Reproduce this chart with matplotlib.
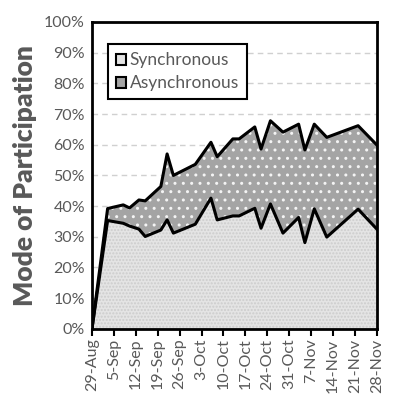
import numpy as np
import matplotlib
matplotlib.use('Agg')
import matplotlib.pyplot as plt
from matplotlib.patches import Patch
from matplotlib.ticker import PercentFormatter

# days since 29-Aug
days = [0, 5, 10, 12, 15, 17, 22, 24, 26, 33, 38, 40, 45, 47, 52, 54, 57, 61, 66, 68, 71, 75, 85, 91]
synchronous = [0, 35.3, 34.4, 33.5, 32.5, 30.1, 32.2, 35.5, 31.2, 34.1, 42.6, 35.5, 36.8, 36.8,
               39.3, 32.8, 40.7, 31.2, 36.3, 28.1, 39.1, 29.9, 39.0, 32.5]
total = [0, 39.2, 40.4, 39.4, 42.0, 41.7, 46.4, 57.0, 50.0, 53.6, 60.8, 56.1, 61.9, 61.9,
         65.8, 58.6, 67.8, 64.1, 66.7, 58.3, 66.7, 62.4, 66.2, 59.9]
tick_days = list(range(0, 92, 7))
tick_labels = ['29-Aug', '5-Sep', '12-Sep', '19-Sep', '26-Sep', '3-Oct', '10-Oct',
               '17-Oct', '24-Oct', '31-Oct', '7-Nov', '14-Nov', '21-Nov', '28-Nov']

plt.rcParams['font.family'] = ['Lato', 'DejaVu Sans']
gray = '#595959'

fig = plt.figure(figsize=(3.93, 4.07), dpi=100)
ax = fig.add_axes([0.234, 0.192, 0.725, 0.754])

sync = np.array(synchronous)
tot = np.array(total)

ax.fill_between(days, 0, sync, facecolor='#e4e4e4', edgecolor='#cccccc', hatch='.....', linewidth=0, zorder=2)
ax.fill_between(days, sync, tot, facecolor='#a4a4a4', edgecolor='#f4f4f4', hatch='..', linewidth=0, zorder=2)
ax.plot(days, sync, color='black', lw=2.2, zorder=3)
ax.plot(days, tot, color='black', lw=2.2, zorder=3)

ax.set_xlim(0, 91)
ax.set_ylim(0, 100)
ax.set_yticks(range(0, 101, 10))
ax.yaxis.set_major_formatter(PercentFormatter(decimals=0))
ax.set_xticks(tick_days)
ax.set_xticklabels(tick_labels, rotation=90)
ax.grid(axis='y', color='#d0d0d0', linestyle=(0, (4, 3)), lw=1, zorder=1)
ax.tick_params(axis='y', length=0, labelsize=11.5, labelcolor=gray, pad=5)
ax.tick_params(axis='x', length=5, width=1.5, direction='out', labelsize=11.5, labelcolor=gray, pad=2)
for s in ax.spines.values():
    s.set_linewidth(2)
    s.set_zorder(4)

ax.set_ylabel('Mode of Participation', fontsize=19, fontweight='heavy', color=gray, labelpad=5)

handles = [Patch(facecolor='#e4e4e4', edgecolor='black', lw=1.5, label='Synchronous'),
           Patch(facecolor='#a4a4a4', edgecolor='black', lw=1.5, label='Asynchronous')]
leg = ax.legend(handles=handles, loc='upper left', bbox_to_anchor=(0.025, 0.955), fontsize=12.5,
                frameon=True, fancybox=False, edgecolor='black', framealpha=1,
                handlelength=0.6, handleheight=0.6, handletextpad=0.2, borderpad=0.45,
                labelspacing=0.4, labelcolor=gray)
leg.get_frame().set_linewidth(1.5)

fig.savefig('out.png', dpi=100)
